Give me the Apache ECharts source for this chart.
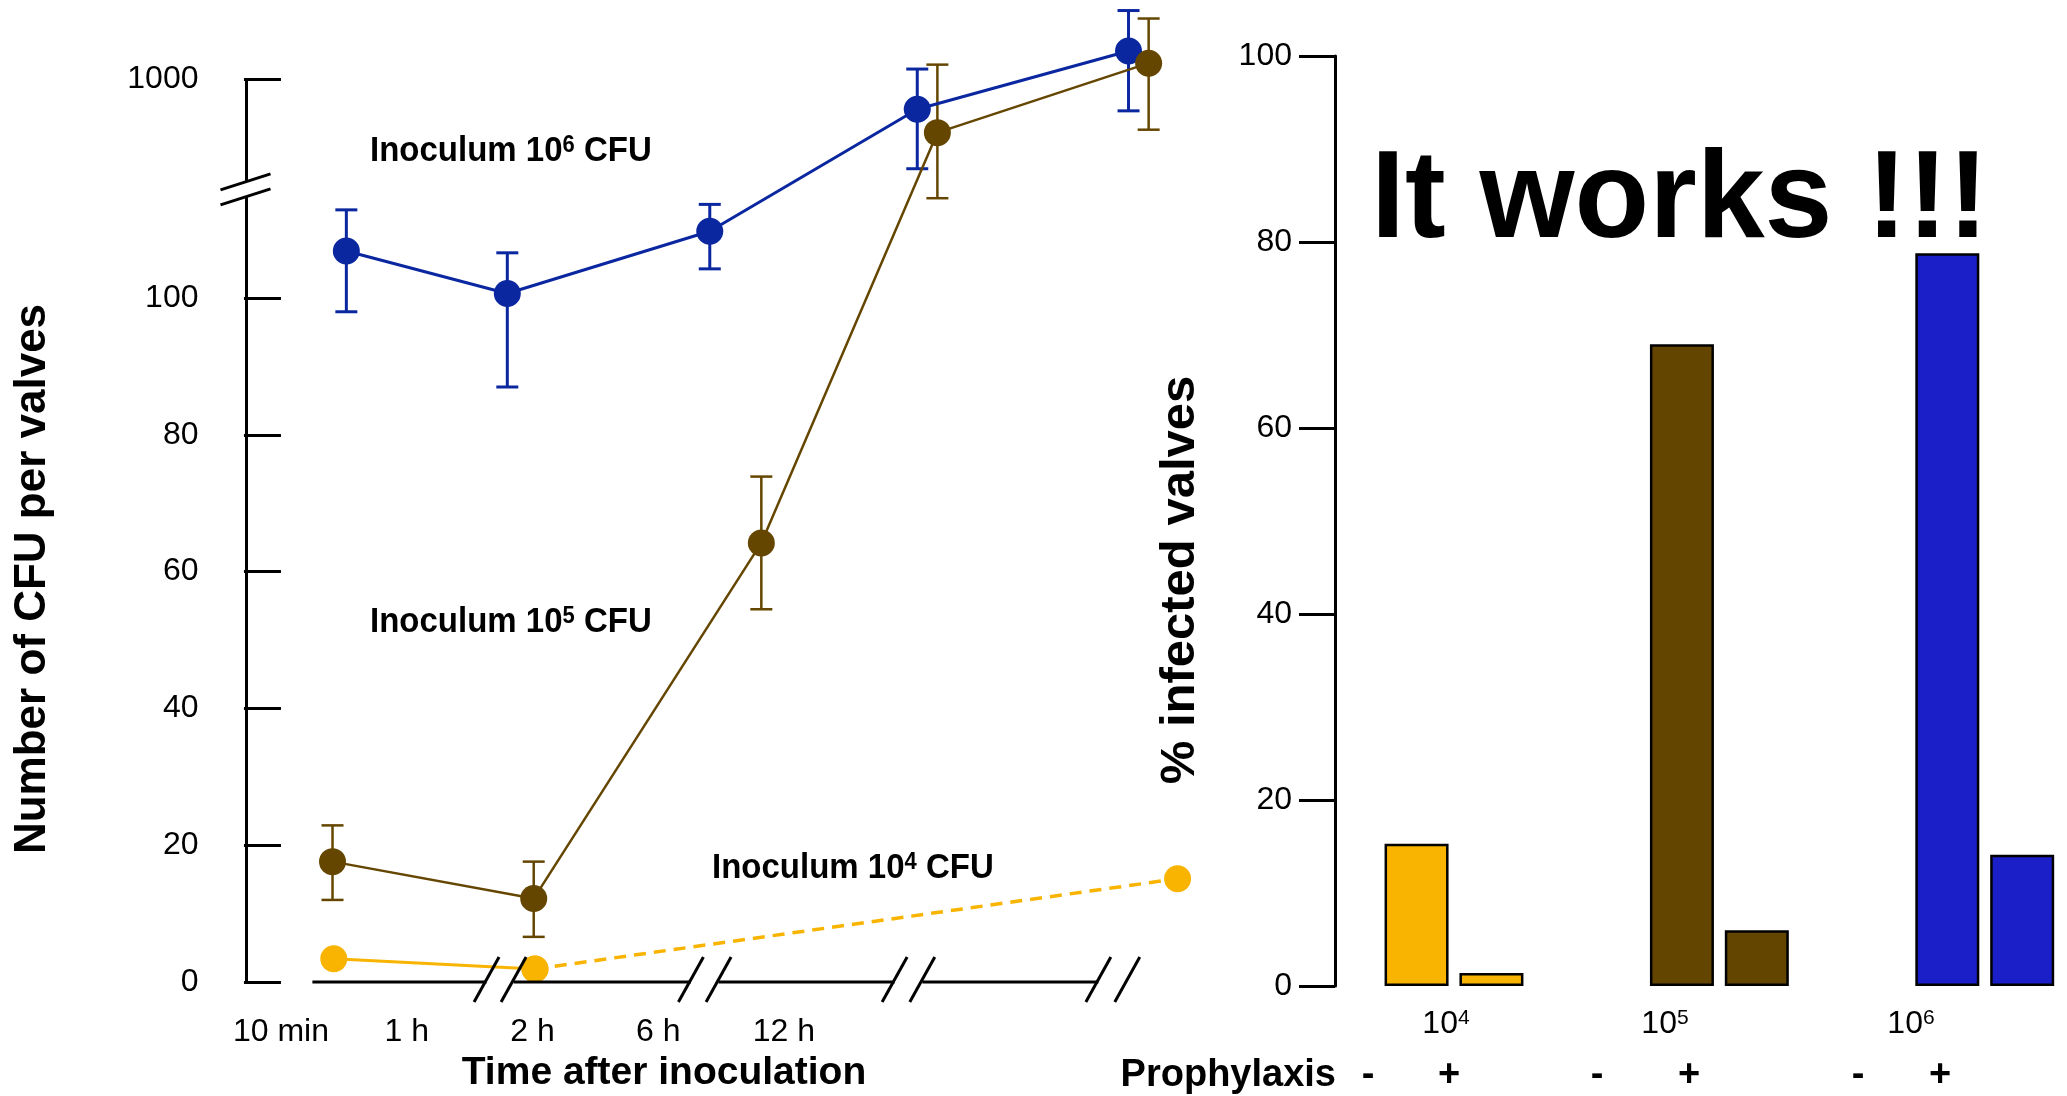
<!DOCTYPE html>
<html>
<head>
<meta charset="utf-8">
<script src="https://cdn.jsdelivr.net/npm/echarts@6/dist/echarts.min.js"></script>
<style>
  html, body { margin: 0; padding: 0; background: #ffffff; }
  #chart { width: 2067px; height: 1096px; }
</style>
</head>
<body>
<div id="chart"></div>
<script>
// ---- Left panel: CFU per valve over time, three inocula ----
const timeLabels = ['10 min', '1 h', '2 h', '6 h', '12 h'];
const cfuTicks = [0, 20, 40, 60, 80, 100, 1000];

// x = position on the schematic (broken) time axis, one unit per labelled step
const blueX = [0.52, 1.80, 3.41, 5.06, 6.74];
const blueCFU = [164, 105, 202, 729, 1345];
const blueLow = [98, 87, 136, 390, 717];
const blueHigh = [253, 161, 268, 1113, 2060];

const brownX = [0.41, 2.01, 3.82, 5.22, 6.90];
const brownCFU = [17.6, 12.2, 64.2, 570, 1184];
const brownLow = [12.0, 6.6, 54.5, 286, 588];
const brownHigh = [22.9, 17.6, 73.9, 1166, 1894];

const yellowX = [0.42, 2.02, 7.13];
const yellowCFU = [3.4, 1.9, 15.1];

// ---- Right panel: % infected valves, without / with prophylaxis ----
const doseExponents = ['4', '5', '6'];
const infectedWithout = [15.3, 69.0, 78.8];
const infectedWith = [1.4, 6.0, 14.1];
const prophylaxisSigns = ['-', '+'];

const BLUE = '#0a27a0';
const BROWN = '#654600';
const YELLOW = '#f8b400';
const barColors = ['#f8b400', '#634500', '#1a1fc7'];
const FONT = "'Liberation Sans', Arial, sans-serif";

// Broken CFU axis: linear up to 100, logarithmic above (32 axis units per decade)
const DECADE = 32;
function toAxis(v) { return v <= 100 ? v : 100 + DECADE * Math.log10(v / 100); }
const cfuTickPos = cfuTicks.map(toAxis);

function pairs(xs, ys) { return xs.map((x, i) => [x, toAxis(ys[i])]); }

function errorBars(xs, lows, highs, color, width) {
  return {
    type: 'custom',
    xAxisIndex: 0, yAxisIndex: 0,
    clip: false, silent: true, z: 1,
    data: xs.map((x, i) => [x, toAxis(lows[i]), toAxis(highs[i])]),
    renderItem(params, api) {
      const lo = api.coord([api.value(0), api.value(1)]);
      const hi = api.coord([api.value(0), api.value(2)]);
      const cap = 11;
      const st = { stroke: color, lineWidth: width };
      return {
        type: 'group',
        children: [
          { type: 'line', shape: { x1: lo[0], y1: lo[1], x2: hi[0], y2: hi[1] }, style: st },
          { type: 'line', shape: { x1: lo[0] - cap, y1: lo[1], x2: lo[0] + cap, y2: lo[1] }, style: st },
          { type: 'line', shape: { x1: hi[0] - cap, y1: hi[1], x2: hi[0] + cap, y2: hi[1] }, style: st }
        ]
      };
    }
  };
}

function pointLine(data, color, width, dashed) {
  return {
    type: 'line', xAxisIndex: 0, yAxisIndex: 0,
    data: data, clip: false, z: 3,
    symbol: 'circle', symbolSize: 27, showSymbol: true,
    itemStyle: { color: color },
    lineStyle: { color: color, width: width, type: dashed ? [12, 8] : 'solid' },
    emphasis: { disabled: true }
  };
}

function infectedBars(values) {
  return {
    type: 'bar', xAxisIndex: 1, yAxisIndex: 1, barWidth: 64, barGap: '17%', clip: false,
    data: values.map((v, i) => ({ value: v, itemStyle: { color: barColors[i] } })),
    itemStyle: { borderColor: '#000', borderWidth: 2.5 },
    emphasis: { disabled: true }
  };
}

const chart = echarts.init(document.getElementById('chart'), null, { renderer: 'canvas' });

const axisText = { fontFamily: FONT, fontSize: 32, color: '#000' };

chart.setOption({
  animation: false,
  backgroundColor: '#ffffff',
  grid: [
    { left: 246.5, width: 977.6, top: 4, height: 978 },
    { left: 1454, width: 530.75, top: 56, height: 930 }
  ],
  xAxis: [
    {
      gridIndex: 0, type: 'value', min: -0.274, max: 7.5,
      axisLine: { show: false }, axisTick: { show: false }, splitLine: { show: false },
      axisLabel: Object.assign({
        customValues: timeLabels.map((_, i) => i),
        formatter: v => timeLabels[Math.round(v)],
        margin: 34
      }, axisText)
    },
    {
      gridIndex: 1, type: 'category', data: doseExponents, boundaryGap: false,
      axisLine: { show: false }, axisTick: { show: false }, axisLabel: { show: false },
      splitLine: { show: false }
    }
  ],
  yAxis: [
    {
      gridIndex: 0, type: 'value', min: 0, max: 143,
      axisLine: { show: false }, splitLine: { show: false },
      axisTick: { show: true, customValues: cfuTickPos, length: 37, lineStyle: { color: '#000', width: 3 } },
      axisLabel: Object.assign({
        customValues: cfuTickPos,
        formatter: v => String(cfuTicks[cfuTickPos.findIndex(p => Math.abs(p - v) < 1e-6)]),
        margin: 48
      }, axisText)
    },
    {
      gridIndex: 1, type: 'value', min: 0, max: 100, interval: 20, offset: 119,
      splitLine: { show: false },
      axisLine: { show: true, lineStyle: { color: '#000', width: 3 } },
      axisTick: { show: true, length: 36, lineStyle: { color: '#000', width: 3 } },
      axisLabel: Object.assign({ margin: 43 }, axisText)
    }
  ],
  series: [
    errorBars(blueX, blueLow, blueHigh, BLUE, 3),
    errorBars(brownX, brownLow, brownHigh, BROWN, 2.5),
    pointLine(pairs(blueX, blueCFU), BLUE, 3, false),
    pointLine(pairs(brownX, brownCFU), BROWN, 2.5, false),
    pointLine(pairs(yellowX.slice(0, 2), yellowCFU.slice(0, 2)), YELLOW, 3, false),
    pointLine(pairs(yellowX.slice(1), yellowCFU.slice(1)), YELLOW, 3.5, true),
    infectedBars(infectedWithout),
    infectedBars(infectedWith)
  ]
});

// ---- Axis lines with break marks, titles and annotations ----
function px(x, y) { return chart.convertToPixel({ gridIndex: 0 }, [x, y]); }
const black = { stroke: '#000', lineWidth: 3 };
const g = [];
function seg(x1, y1, x2, y2) { g.push({ type: 'line', shape: { x1, y1, x2, y2 }, style: black, z: 10 }); }

// vertical CFU axis, interrupted between 100 and 1000
const axisX = px(-0.274, 0)[0];
const yTop = px(0, toAxis(1000))[1];
const yZero = px(0, 0)[1];
const yBreakHi = px(0, 117.0)[1];
const yBreakLo = px(0, 114.8)[1];
seg(axisX, yTop, axisX, yBreakHi);
seg(axisX, yBreakLo, axisX, yZero);
[yBreakHi, yBreakLo].forEach(cy => seg(axisX - 26, cy + 8, axisX + 24, cy - 8));

// horizontal time axis, interrupted between groups of time points
const timeSegments = [[0.25, 1.635], [1.85, 3.26], [3.48, 4.88], [5.10, 6.50]];
const breakMarks = [1.635, 1.85, 3.26, 3.48, 4.88, 5.10, 6.50, 6.73];
timeSegments.forEach(s => seg(px(s[0], 0)[0], yZero, px(s[1], 0)[0], yZero));
breakMarks.forEach(b => { const cx = px(b, 0)[0]; seg(cx - 12.5, yZero + 20, cx + 12.5, yZero - 25); });

function text(x, y, str, opt) {
  g.push({
    type: 'text', x, y, z: 10,
    rotation: opt.rotation || 0,
    scaleX: opt.scaleX || 1, scaleY: opt.scaleY || 1,
    style: Object.assign({
      text: str, fill: '#000', font: opt.font, align: opt.align || 'left', verticalAlign: 'middle'
    }, opt.rich ? { rich: opt.rich } : {})
  });
}
const bold = s => 'bold ' + s + 'px ' + FONT;
const supRich = size => ({
  b: { font: bold(size), fill: '#000', verticalAlign: 'bottom' },
  s: { font: bold(Math.round(size * 0.66)), fill: '#000', verticalAlign: 'top' }
});

text(33, 579, 'Number of CFU per valves', { font: bold(44), align: 'center', rotation: Math.PI / 2 });
text(664, 1073, 'Time after inoculation', { font: bold(39), align: 'center' });
text(370, 151, '{b|Inoculum 10}{s|6}{b| CFU}', { font: bold(33), rich: supRich(33), scaleY: 1.06 });
text(370, 622, '{b|Inoculum 10}{s|5}{b| CFU}', { font: bold(33), rich: supRich(33), scaleY: 1.06 });
text(712, 868, '{b|Inoculum 10}{s|4}{b| CFU}', { font: bold(33), rich: supRich(33), scaleY: 1.06 });

// right panel annotations
text(1180, 580, '% infected valves', { font: bold(49), align: 'center', rotation: Math.PI / 2 });
text(1371, 203, 'It works !!!', { font: bold(124), scaleX: 0.985 });
const doseLabelX = [1446, 1665, 1911];
doseExponents.forEach((e, i) => text(doseLabelX[i], 1024, '{n|10}{e|' + e + '}', {
  font: '32px ' + FONT, align: 'center',
  rich: { n: { font: '32px ' + FONT, fill: '#000', verticalAlign: 'bottom' },
          e: { font: '21px ' + FONT, fill: '#000', verticalAlign: 'top' } }
}));
text(1336, 1076, 'Prophylaxis', { font: bold(38), align: 'right' });
const signX = [1368, 1449, 1597, 1689, 1858, 1940];
signX.forEach((x, i) => text(x, 1076, prophylaxisSigns[i % 2], { font: bold(38), align: 'center' }));

chart.setOption({ graphic: { elements: g } });
</script>
</body>
</html>
